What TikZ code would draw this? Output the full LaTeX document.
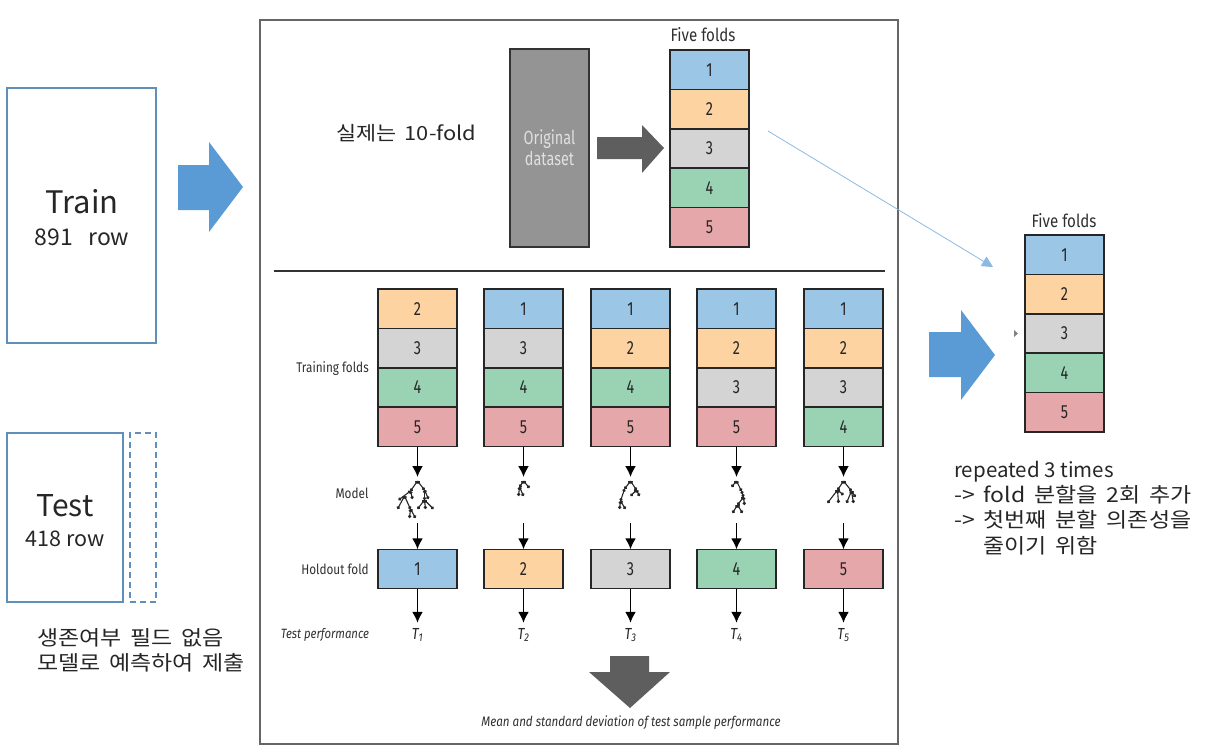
\documentclass[tikz,border=0pt]{standalone}
\usepackage{fontspec}
\setmainfont{Noto Sans CJK KR}
\newfontfamily\widefont[WordSpace=1.7,FakeStretch=1.12]{Noto Sans CJK KR}
\newfontfamily\foldfont[FakeStretch=0.84]{Fira Sans}
\newfontfamily\titlefont[FakeStretch=0.76]{Fira Sans}
\usetikzlibrary{positioning, arrows.meta}

\definecolor{fold1}{HTML}{9CC6E6}
\definecolor{fold2}{HTML}{FDD3A2}
\definecolor{fold3}{HTML}{D4D4D4}
\definecolor{fold4}{HTML}{9AD3B3}
\definecolor{fold5}{HTML}{E6A7AA}
\definecolor{boxblue}{HTML}{5F8FBA}
\definecolor{arrowblue}{HTML}{5B9BD5}
\definecolor{arrowgray}{HTML}{5E5E5E}
\definecolor{textgray}{HTML}{303030}

\tikzset{
    foldbox/.style={draw=black!85, line width=1.5pt, minimum width=79pt, minimum height=39.4pt,
        inner sep=0pt, outer sep=0pt, text=black!85, font=\titlefont\fontsize{19}{21}\selectfont},
    sidelabel/.style={inner sep=0pt, text=textgray, font=\foldfont\fontsize{14}{16}\selectfont},
    downarrow/.style={-{Latex[length=11pt,width=11pt]}, line width=1.7pt, black},
    dataframe/.style={draw=boxblue, line width=1.5pt, inner sep=0pt, outer sep=0pt},
    note/.style={inner sep=0pt, align=left, anchor=north west, text=black!85,
        font=\widefont\fontsize{20.5}{25.2}\selectfont},
}

% tree: takes a list of branches
\newcommand{\modeltree}[2]{
    \foreach \ax/\ay/\bx/\by in {#2} {
        \draw[line width=1.1pt, black!85, shift={(#1)}, {Circle[length=3.2pt]}-{Circle[length=3.2pt]}]
            (\ax,\ay) -- (\bx,\by);
    }
}

\begin{document}
\begin{tikzpicture}[x=1pt, y=-1pt]
    \useasboundingbox (0,0) rectangle (1226,753);

    % left data
    \node[dataframe, minimum width=149pt, minimum height=255pt] (train) at (81.5,215.5) {};
    \node[inner sep=0pt, text=black!85, font=\fontsize{31}{36}\selectfont] (traintitle) at (82,202) {Train};
    \node[inner sep=0pt, text=black!85, font=\fontsize{23}{26}\selectfont] (trainrow) at (82,237) {891\ \ \ row};
    \node[dataframe, minimum width=116pt, minimum height=169pt] (test) at (65,517.5) {};
    \node[dataframe, dash pattern=on 6pt off 4pt, minimum width=26pt, minimum height=169pt] (testfield) at (143,517.5) {};
    \node[inner sep=0pt, text=black!85, font=\fontsize{30}{34}\selectfont] (testtitle) at (65,506) {Test};
    \node[inner sep=0pt, text=black!85, font=\fontsize{21.5}{24}\selectfont] (testrow) at (65,539) {418 row};
    \node[note] (testnote) at (37,628) {생존여부 필드 없음\\모델로 예측하여 제출};

    \fill[arrowblue] (178,165) -- (209,165) -- (209,142) -- (243,187) -- (209,232) -- (209,210) -- (178,210) -- cycle;

    % centre panel
    \node[draw=black!60, line width=1.2pt, minimum width=638pt, minimum height=724pt, inner sep=0pt] (panel) at (579,382) {};
    \node[inner sep=0pt, anchor=west, text=black!85, font=\widefont\fontsize{19.5}{24}\selectfont] (realfold) at (336,133) {실제는 10-fold};

    \node[draw=black!80, fill=black!42, line width=1.5pt, minimum width=79pt, minimum height=198pt,
        inner sep=0pt, align=center, text=black!12, font=\titlefont\fontsize{19}{21}\selectfont] (orig) at (549.5,148) {Original\\dataset};
    \fill[arrowgray] (597,137) -- (642,137) -- (642,125) -- (664,148) -- (642,173) -- (642,159) -- (597,159) -- cycle;

    \node[sidelabel, font=\foldfont\fontsize{18}{20}\selectfont] (toptitle) at (703,35) {Five folds};
    \foreach \n in {1,...,5} {
        \node[foldbox, fill=fold\n] (top\n) at (709.5,{69.7+39.4*(\n-1)}) {\n};
    }

    \draw[line width=1.6pt, black!80] (274,271) -- (885,271);

    % training folds
    \node[sidelabel] (trainlabel) at (332.5,368.5) {Training folds};
    \node[sidelabel] (modellabel) at (352,493.5) {Model};
    \node[sidelabel] (holdlabel) at (335,569.5) {Holdout fold};
    \node[sidelabel, font=\foldfont\itshape\fontsize{13.5}{15}\selectfont] (perflabel) at (325,635) {Test performance};

    \foreach \c/\x/\a/\b/\d/\e in {1/417.5/2/3/4/5, 2/523.5/1/3/4/5, 3/630.5/1/2/4/5, 4/736.5/1/2/3/5, 5/843.5/1/2/3/4} {
        \node[foldbox, fill=fold\a] (c\c a) at (\x,308.7) {\a};
        \node[foldbox, fill=fold\b] (c\c b) at (\x,348.1) {\b};
        \node[foldbox, fill=fold\d] (c\c c) at (\x,387.5) {\d};
        \node[foldbox, fill=fold\e] (c\c d) at (\x,426.9) {\e};
        \coordinate (ma\c) at (\x,477);
        \coordinate (mb\c) at (\x,523);
        \coordinate (tree\c) at (\x,481);
        \node[foldbox, fill=fold\c] (hold\c) at (\x,569) {\c};
        \node[inner sep=0pt, minimum height=24pt, text=black!85, font=\foldfont\itshape\fontsize{16}{18}\selectfont] (perf\c) at (\x,635) {T\textsubscript{\c}};
        \draw[downarrow] (c\c d) -- (ma\c);
        \draw[downarrow] (mb\c) -- (hold\c);
        \draw[downarrow] (hold\c) -- (perf\c);
    }

    % trees
    \modeltree{tree1}{0/0/-7/10, -7/10/-19/19, -7/10/-5/18, -13/15/-20/28, -13/15/-7/28, -7/28/-8/37, -7/28/-2/37, 0/0/7/9, 7/9/11/18, 7/9/7/19, 7/19/0/28, 7/19/8/28, 7/19/16/28}
    \modeltree{tree2}{0/0/-4/6, -4/6/-5/15, -4/6/0/15, 0/0/6/7}
    \modeltree{tree3}{0/0/-6/8, -6/8/-10/20, -10/20/-11/28, -10/20/-5/28, 0/0/6/9, 6/9/9/15, 6/9/0/15}
    \modeltree{tree4}{0/0/-5/6, 0/0/5/10, 5/10/7/16, 7/16/8/24, 7/16/1/24, 1/24/-4/32, 1/24/6/32}
    \modeltree{tree5}{0/0/-6/9, -6/9/-16/22, -6/9/-5/22, -6/9/0/14, 0/0/8/10, 8/10/12/16, 8/10/3/22, 8/10/10/22}

    % bottom arrow
    \fill[arrowgray] (610,656) -- (649,656) -- (649,672) -- (670,672) -- (630,708) -- (589,672) -- (610,672) -- cycle;
    \node[sidelabel, font=\foldfont\itshape\fontsize{13.8}{15}\selectfont] (meanlabel) at (631,723) {Mean and standard deviation of test sample performance};

    % right side
    \coordinate (lineA) at (768,131);
    \coordinate (lineB) at (993,267);
    \draw[-{Triangle[length=11pt,width=11pt]}, line width=.8pt, color=arrowblue!70] (lineA) -- (lineB);
    \fill[arrowblue] (929,332) -- (961,332) -- (961,310) -- (995,355) -- (961,400) -- (961,377) -- (929,377) -- cycle;
    \fill[black!50] (1014,330) -- (1018,333.5) -- (1014,337) -- cycle;

    \node[sidelabel, font=\foldfont\fontsize{18}{20}\selectfont] (righttitle) at (1064,221) {Five folds};
    \foreach \n in {1,...,5} {
        \node[foldbox, fill=fold\n] (right\n) at (1064.5,{254.7+39.4*(\n-1)}) {\n};
    }

    \node[note] (repeatnote) at (954,461) {{\normalfont repeated 3 times}\\-> fold 분할을 2회 추가\\-> 첫번째 분할 의존성을\\\phantom{->} 줄이기 위함};
\end{tikzpicture}
\end{document}
